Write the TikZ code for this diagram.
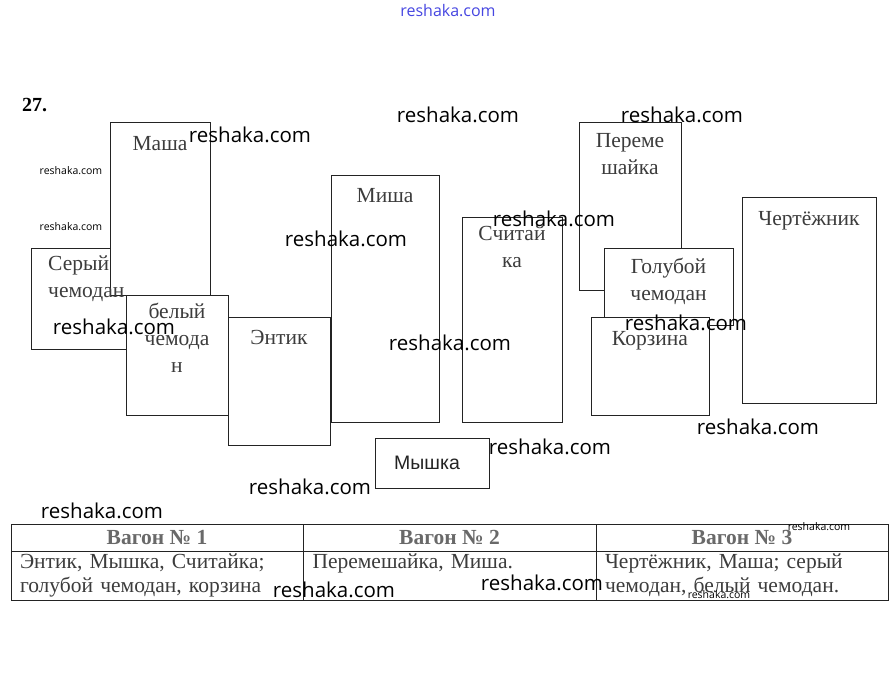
\documentclass[tikz,border=0pt]{standalone}
\usepackage{fontspec}
\setmainfont{Liberation Serif}
\newfontfamily\wmfont{Open Sans}
\newfontfamily\armfont{Liberation Sans}
\usepackage{tikz}
\usetikzlibrary{positioning}
\definecolor{boxline}{RGB}{35,35,35}
\definecolor{inkgray}{RGB}{60,60,60}
\definecolor{headgray}{RGB}{105,105,105}
\definecolor{siteblue}{RGB}{70,70,225}
\tikzset{
    toybox/.style={rectangle, draw=boxline, fill=white, line width=0.9pt, anchor=north west, inner sep=0pt, outer sep=0pt},
    toyname/.style={anchor=north, inner sep=0pt, align=center, text=inkgray, font=\fontsize{21.5}{27}\selectfont, execute at begin node=\strut},
    tabcell/.style={rectangle, draw=boxline, line width=0.9pt, anchor=north west, inner sep=0pt, outer sep=0pt, minimum width=#1},
    wmark/.style={font=\wmfont\fontsize{20.5}{24}\selectfont, inner sep=0pt},
    wmsmall/.style={font=\wmfont\fontsize{10.5}{12}\selectfont, inner sep=0pt}
}

\begin{document}
\begin{tikzpicture}[
    x=1pt, y=-1pt,
    headcell/.style={tabcell=#1, minimum height=27pt, text=headgray, font=\bfseries\fontsize{21.5}{23}\selectfont},
    bodycell/.style={tabcell=#1, minimum height=49pt, text width=274pt, align=left, text=inkgray, font=\fontsize{21.5}{24}\selectfont}
]
\useasboundingbox (0,0) rectangle (896,699);

\node[font=\bfseries\fontsize{20}{24}\selectfont, anchor=west, inner sep=0pt] (num) at (22,105) {27.};

% the toys and the things
\node[toybox, minimum width=100pt, minimum height=101pt] (seryj) at (31,248) {};
\node[toybox, minimum width=100pt, minimum height=173pt] (masha) at (110,122) {};
\node[toybox, minimum width=102pt, minimum height=120pt] (belyj) at (126,295) {};
\node[toybox, minimum width=102pt, minimum height=128pt] (entik) at (228,317) {};
\node[toybox, minimum width=108pt, minimum height=247pt] (misha) at (331,175) {};
\node[toybox, minimum width=100pt, minimum height=205pt] (schit) at (462,217) {};
\node[toybox, minimum width=114pt, minimum height=50pt] (myshka) at (375,438) {};
\node[toybox, minimum width=102pt, minimum height=168pt] (perem) at (579,122) {};
\node[toybox, minimum width=129pt, minimum height=77pt] (golub) at (604,248) {};
\node[toybox, minimum width=118pt, minimum height=98pt] (korz) at (591,317) {};
\node[toybox, minimum width=134pt, minimum height=206pt] (chert) at (742,197) {};

\node[toyname, below=9pt of masha.north] (mashatxt) {Маша};
\node[toyname, align=left, below right=8pt and 17pt of seryj.north west] (seryjtxt) {Серый\\чемодан};
\node[toyname, below=8pt of belyj.north] (belyjtxt) {белый\\чемода\\н};
\node[toyname, below=8pt of entik.north] (entiktxt) {Энтик};
\node[toyname, below=8pt of misha.north] (mishatxt) {Миша};
\node[toyname, below=9pt of schit.north] (schittxt) {Считай\\ка};
\node[inner sep=0pt, xshift=-5pt, text=boxline, font=\armfont\fontsize{19.5}{23}\selectfont] (myshkatxt) at (myshka.center) {Мышка};
\node[toyname, below=11pt of perem.north] (peremtxt) {Переме\\шайка};
\node[toyname, below=10pt of golub.north] (golubtxt) {Голубой\\чемодан};
\node[toyname, below=9pt of korz.north] (korztxt) {Корзина};
\node[toyname, below=9pt of chert.north] (merttxt) {Чертёжник};

% table of wagons
\node[headcell=292pt] (head1) at (11,524) {Вагон № 1};
\node[headcell=293pt] (head2) at (303,524) {Вагон № 2};
\node[headcell=292pt] (head3) at (596,524) {Вагон № 3};
\node[bodycell=292pt] (body1) at (11,551) {Энтик, Мышка, Считайка;\\голубой чемодан, корзина};
\node[bodycell=293pt] (body2) at (303,551) {Перемешайка, Миша.\\\phantom{голубой}};
\node[bodycell=292pt] (body3) at (596,551) {Чертёжник, Маша; серый\\чемодан, белый чемодан.};

% watermarks
\node[inner sep=0pt, text=siteblue, font=\wmfont\fontsize{16}{18}\selectfont] (wmtop) at (448,11) {reshaka.com};
\node[wmark] (wm1) at (250,135) {reshaka.com};
\node[wmark] (wm2) at (458,115) {reshaka.com};
\node[wmark] (wm3) at (682,115) {reshaka.com};
\node[wmark] (wm4) at (346,239) {reshaka.com};
\node[wmark] (wm5) at (554,219) {reshaka.com};
\node[wmark] (wm6) at (114,327) {reshaka.com};
\node[wmark] (wm7) at (450,343) {reshaka.com};
\node[wmark] (wm8) at (686,323) {reshaka.com};
\node[wmark] (wm9) at (758,427) {reshaka.com};
\node[wmark] (wm10) at (550,447) {reshaka.com};
\node[wmark] (wm11) at (310,487) {reshaka.com};
\node[wmark] (wm12) at (102,511) {reshaka.com};
\node[wmark] (wm13) at (334,590) {reshaka.com};
\node[wmark] (wm14) at (542,583) {reshaka.com};
\node[wmsmall] (wms1) at (71,171) {reshaka.com};
\node[wmsmall] (wms2) at (71,227) {reshaka.com};
\node[wmsmall] (wms3) at (819,527) {reshaka.com};
\node[wmsmall] (wms4) at (719,595) {reshaka.com};

\end{tikzpicture}
\end{document}
